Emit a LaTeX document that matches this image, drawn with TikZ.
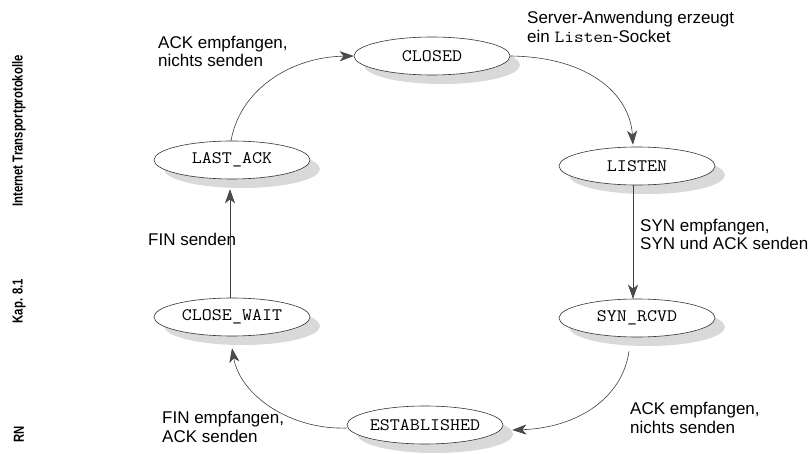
\documentclass[tikz,border=0pt]{standalone}
\usepackage{fontspec}
\setmainfont{Liberation Sans}
\usepackage{graphicx}
\usetikzlibrary{shapes.geometric,arrows.meta,shadows}
\newcommand{\tw}[1]{\scalebox{1.11}[1]{\ttfamily #1}}
\newcommand{\narrow}[1]{\scalebox{0.78}[1]{#1}}
\begin{document}
\begin{tikzpicture}[x=1pt,y=-1pt,
  state/.style={ellipse, draw=black!80, line width=0.6pt, fill=white,
    minimum width=156pt, minimum height=38pt, inner sep=0pt,
    font=\fontsize{17.5}{20}\selectfont,
    drop shadow={shadow xshift=10pt, shadow yshift=-9pt, fill=gray!30, opacity=1}},
  lbl/.style={anchor=north west, align=left, inner sep=0pt,
    font=\fontsize{17}{18.5}\selectfont},
  side/.style={rotate=90, inner sep=0pt, font=\fontsize{14.5}{16}\selectfont\bfseries},
  trans/.style={draw=black!75, line width=0.6pt,
    -{Stealth[length=14pt,width=10pt,inset=4pt,fill=black!70]}}
]
\useasboundingbox[fill=white] (0,0) rectangle (812,454);

% margin texts
\node[side] (m1) at (19,131) {\narrow{Internet Transportprotokolle}};
\node[side] (m2) at (19,301) {\narrow{Kap. 8.1}};
\node[side] (m3) at (19,434) {\narrow{RN}};

% states
\node[state] (CL) at (432,56)  {\tw{CLOSED}};
\node[state] (LI) at (637,166) {\tw{LISTEN}};
\node[state] (SR) at (637,318) {\tw{SYN\_RCVD}};
\node[state] (ES) at (425,425) {\tw{ESTABLISHED}};
\node[state] (CW) at (232,317) {\tw{CLOSE\_WAIT}};
\node[state] (LA) at (232,160) {\tw{LAST\_ACK}};

% transitions
\draw[trans] (CL.east) .. controls (590,57) and (630,95) .. ([xshift=-4pt,yshift=2pt]LI.north);
\draw[trans] ([xshift=-4pt]LI.south) -- ([xshift=-4pt]SR.north);
\draw[trans] ([xshift=-8pt,yshift=-14pt]SR.south) .. controls (622,400) and (575,428) .. ([xshift=9pt,yshift=-5pt]ES.east);
\draw[trans] ([yshift=-3pt]ES.west) .. controls (290,430) and (240,395) .. ([yshift=-12pt]CW.south);
\draw[trans] ([xshift=-2pt]CW.north) -- ([xshift=-2pt,yshift=-10pt]LA.south);
\draw[trans] ([xshift=-1pt]LA.north) .. controls (240,90) and (290,57) .. (CL.west);

% labels (north west corner ~ top of ascenders)
\node[lbl] (l1) at (158,36)  {ACK empfangen,\\nichts senden};
\node[lbl] (l2) at (527,11)  {Server-Anwendung erzeugt\\ein \tw{Listen}-Socket};
\node[lbl] (l3) at (640,219) {SYN empfangen,\\SYN und ACK senden};
\node[lbl] (l4) at (630,402) {ACK empfangen,\\nichts senden};
\node[lbl] (l5) at (162,411) {FIN empfangen,\\ACK senden};
\node[lbl] (l6) at (148,233) {FIN senden};
\end{tikzpicture}
\end{document}
